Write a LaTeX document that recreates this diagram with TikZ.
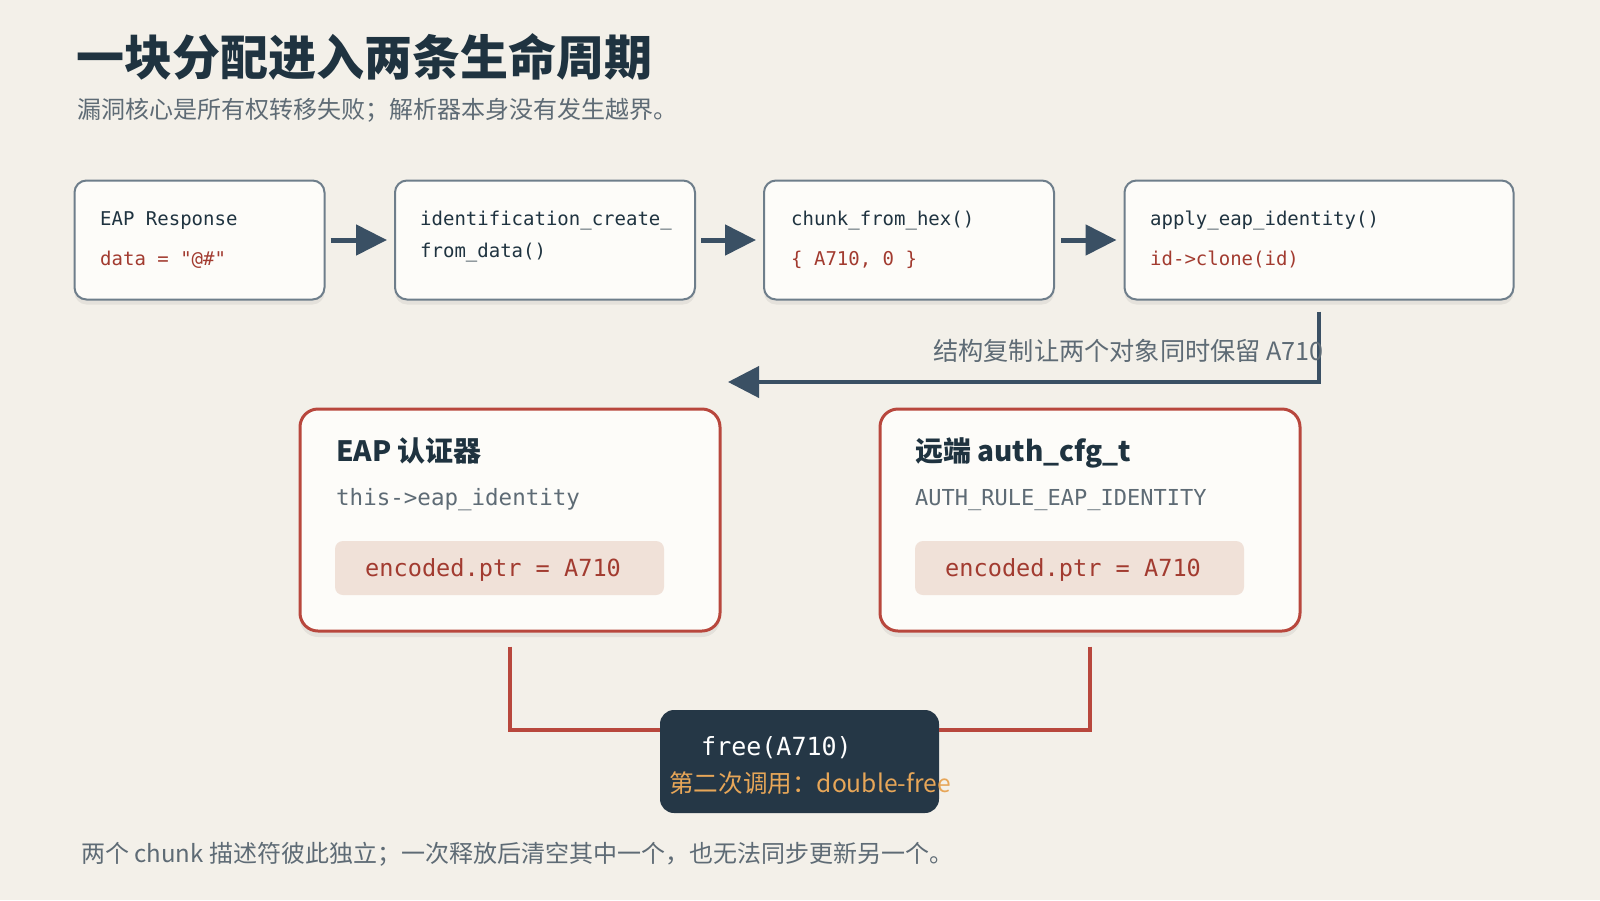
\documentclass[tikz,border=0pt]{standalone}
\usepackage{fontspec}
\setmainfont{Noto Sans CJK SC}
\setmonofont{DejaVu Sans Mono}
\usepackage{xcolor}
\usetikzlibrary{positioning, arrows.meta, shadows}

\definecolor{pagebg}{HTML}{F3F0E9}
\definecolor{boxfill}{HTML}{FDFCF9}
\definecolor{boxline}{HTML}{6E7E8B}
\definecolor{flowcol}{HTML}{3A5064}
\definecolor{codered}{HTML}{A23B30}
\definecolor{ownred}{HTML}{B8473D}
\definecolor{pillfill}{HTML}{F0E1D8}
\definecolor{inkdark}{HTML}{1F3340}
\definecolor{inkgray}{HTML}{5E6B75}
\definecolor{freebg}{HTML}{253746}
\definecolor{warnorange}{HTML}{E7A658}

\begin{document}
\begin{tikzpicture}[x=1pt, y=-1pt,
  stepbox/.style={draw=boxline, line width=2pt, fill=boxfill, rounded corners=12pt,
    minimum height=119pt, inner sep=0pt,
    drop shadow={shadow xshift=0pt, shadow yshift=-5pt, opacity=0.06, fill=black}},
  ownerbox/.style={draw=ownred, line width=3pt, fill=boxfill, rounded corners=18pt,
    minimum width=420pt, minimum height=222pt, inner sep=0pt,
    drop shadow={shadow xshift=0pt, shadow yshift=-6pt, opacity=0.06, fill=black}},
  pill/.style={fill=pillfill, rounded corners=8pt, minimum width=329pt, minimum height=54pt},
  codetx/.style={anchor=base west, inner sep=0pt, font=\fontsize{19}{23}\ttfamily, text=inkdark},
  flow/.style={draw=flowcol, line width=5pt, -{Triangle[length=31pt, width=30pt]}},
  redline/.style={draw=ownred, line width=4pt}]

  \useasboundingbox[fill=pagebg] (0,0) rectangle (1600,900);

  % heading
  \node (title) [anchor=base west, inner sep=0pt, text=inkdark, font=\fontsize{48}{56}\bfseries]
    at (76,75) {一块分配进入两条生命周期};
  \node (subtitle) [anchor=base west, inner sep=0pt, text=inkgray, font=\fontsize{24}{28}\selectfont]
    at (77,118) {漏洞核心是所有权转移失败；解析器本身没有发生越界。};

  % parsing chain (top row)
  \node (resp) [stepbox, minimum width=250pt] at (199.5,240) {};
  \node (create) [stepbox, minimum width=300pt] at (545,240) {};
  \node (hex) [stepbox, minimum width=290pt] at (909,240) {};
  \node (apply) [stepbox, minimum width=389pt] at (1319,240) {};

  \node (resptx) [codetx] at (100,225) {EAP Response};
  \node (respval) [codetx, text=codered] at (100,265) {data = "@\#"};
  \node (createtx) [codetx] at (420,225) {identification\_create\_};
  \node (createtx2) [codetx] at (420,257) {from\_data()};
  \node (hextx) [codetx] at (791,225) {chunk\_from\_hex()};
  \node (hexval) [codetx, text=codered] at (791,265) {\{ A710, 0 \}};
  \node (applytx) [codetx] at (1150,225) {apply\_eap\_identity()};
  \node (applyval) [codetx, text=codered] at (1150,265) {id->clone(id)};

  \draw[flow, shorten <=5pt, shorten >=7pt] (resp) -- (create);
  \draw[flow, shorten <=5pt, shorten >=7pt] (create) -- (hex);
  \draw[flow, shorten <=6pt, shorten >=7pt] (hex) -- (apply);

  % copy goes back to the left
  \coordinate (copyend) at (728,382);
  \draw[flowcol, line width=4pt, -{Triangle[length=31pt, width=31pt]}]
    ([yshift=-11pt]apply.south) |- (copyend);
  \node (copylbl) [anchor=base east, inner sep=0pt, text=inkgray, font=\fontsize{25.2}{29}\selectfont]
    at (1324,360) {结构复制让两个对象同时保留 A710};

  % two owners (middle row)
  \node (eapauth) [ownerbox] at (510,520) {};
  \node (authcfg) [ownerbox] at (1090,520) {};

  \node (eapname) [anchor=base west, inner sep=0pt, text=inkdark, font=\fontsize{28}{32}\bfseries]
    at (336,461) {EAP 认证器};
  \node (eapfield) [codetx, text=inkgray, font=\fontsize{22.5}{26}\ttfamily]
    at (336,505) {this->eap\_identity};
  \node (eapptr) [pill] at (499.5,568) {};
  \node (eapptrtx) [codetx, text=codered, font=\fontsize{23.6}{28}\ttfamily]
    at (365,576.5) {encoded.ptr = A710};

  \node (cfgname) [anchor=base west, inner sep=0pt, text=inkdark, font=\fontsize{28}{32}\bfseries]
    at (915,461) {远端 auth\_cfg\_t};
  \node (cfgfield) [codetx, text=inkgray, font=\fontsize{22}{26}\ttfamily]
    at (915,505) {AUTH\_RULE\_EAP\_IDENTITY};
  \node (cfgptr) [pill] at (1079.5,568) {};
  \node (cfgptrtx) [codetx, text=codered, font=\fontsize{23.6}{28}\ttfamily]
    at (945,576.5) {encoded.ptr = A710};

  % both end in the same free (bottom row)
  \node (free) [fill=freebg, rounded corners=14pt, minimum width=279pt, minimum height=103pt]
    at (799.5,761.5) {};
  \node (freecall) [codetx, text=white, font=\fontsize{25}{30}\ttfamily] at (701,755) {free(A710)};
  \node (freenote) [anchor=base west, inner sep=0pt, text=warnorange, font=\fontsize{24.6}{28}\selectfont]
    at (669,792) {第二次调用：double-free};

  \draw[redline] ([yshift=-14pt]eapauth.south) |- ([yshift=-20pt]free.north west);
  \draw[redline] ([yshift=-14pt]authcfg.south) |- ([yshift=-20pt]free.north east);

  % footer
  \node (footer) [anchor=base west, inner sep=0pt, text=inkgray, font=\fontsize{24}{28}\selectfont]
    at (81,862) {两个 chunk 描述符彼此独立；一次释放后清空其中一个，也无法同步更新另一个。};
\end{tikzpicture}
\end{document}
